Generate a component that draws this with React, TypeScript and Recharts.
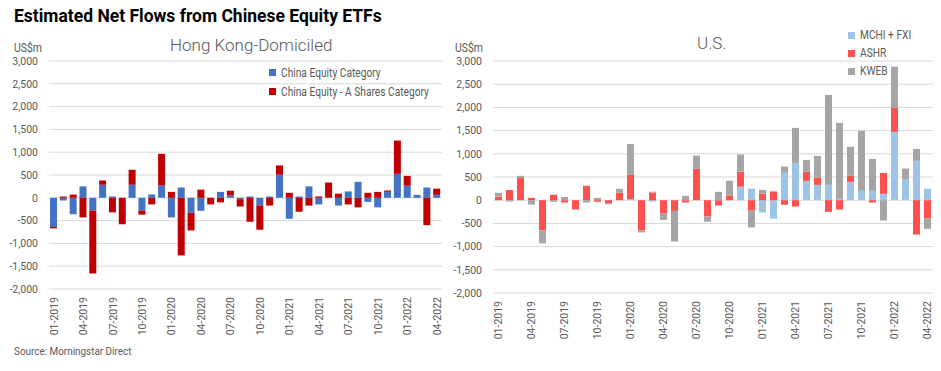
import { BarChart, Bar, XAxis, YAxis, CartesianGrid } from "recharts";

const months = [
  "01-2019", "02-2019", "03-2019", "04-2019", "05-2019", "06-2019", "07-2019", "08-2019", "09-2019", "10-2019", "11-2019", "12-2019",
  "01-2020", "02-2020", "03-2020", "04-2020", "05-2020", "06-2020", "07-2020", "08-2020", "09-2020", "10-2020", "11-2020", "12-2020",
  "01-2021", "02-2021", "03-2021", "04-2021", "05-2021", "06-2021", "07-2021", "08-2021", "09-2021", "10-2021", "11-2021", "12-2021",
  "01-2022", "02-2022", "03-2022", "04-2022",
];

// Hong Kong-domiciled, US$m
const hkChinaEquity = [
  -640, -60, -360, 250, -280, 285, 30, 0, 285, -280, 75, 270,
  -430, 225, -330, -285, 0, 130, 50, -30, 30, -170, 30, 505,
  -460, 30, 250, -145, 0, -170, 140, 350, -90, -210, 130, 525,
  265, 65, 225, 65,
];
const hkAShares = [
  -30, 30, 70, -430, -1380, 95, -320, -580, 330, -90, -145, 695,
  130, -1265, -385, 180, -145, -100, 105, -160, -525, -530, -170, 205,
  110, -305, -170, 30, 335, 90, -145, -210, 110, 130, 30, 730,
  215, 0, -600, 135,
];

// U.S.-listed, US$m
const usMchiFxi = [
  0, 0, 0, 0, 0, 0, 0, 0, 0, 0, 0, 0,
  25, 0, -30, 0, 0, 0, 0, 0, 0, 0, 290, 250,
  -266, -400, 589, 804, 416, 330, 330, 29, 395, 201, 201, 136,
  1472, 445, 847, 244,
];
const usAshr = [
  80, 220, 490, 50, -650, 115, -50, -200, 310, -35, -70, 160,
  520, -650, 165, -290, -230, -50, 675, -352, -115, 100, 325, -225,
  144, 187, -100, -136, 200, 158, -251, -201, 129, 0, -50, 453,
  517, 0, -740, -395,
];
const usKweb = [
  80, -30, 35, -95, -280, -35, 70, 0, -50, 50, -20, 85,
  665, -45, 20, -135, -660, 93, 285, -110, 180, 320, 370, -362,
  79, 13, 136, 754, 252, 467, 1939, 1637, 625, 1292, 689, -438,
  890, 237, 259, -222,
];

const yTicks = [-2000, -1500, -1000, -500, 0, 500, 1000, 1500, 2000, 2500, 3000];

const hkData = months.map((m, i) => ({ month: m, china: hkChinaEquity[i], ashares: hkAShares[i] }));
const usData = months.map((m, i) => ({ month: m, mchi: usMchiFxi[i], ashr: usAshr[i], kweb: usKweb[i] }));

const FONT = "Roboto, 'Noto Sans', sans-serif";
const GREY = "#595959";
const GRID = "#D9D9D9";

const fmt = (v: number) => v.toLocaleString("en-US");

function MonthTick(props: any) {
  const { x, y, payload } = props;
  return (
    <text x={x} y={y} transform={`rotate(-90, ${x}, ${y})`} textAnchor="end" dy="0.35em" fill={GREY} fontSize={10.5} fontFamily={FONT}>
      {payload.value}
    </text>
  );
}

function LegendItem({ color, label, h }: { color: string; label: string; h: number }) {
  return (
    <div style={{ display: "flex", alignItems: "center", height: h }}>
      <span style={{ display: "inline-block", width: 7, height: 7, background: color, marginRight: 5 }} />
      <span style={{ display: "inline-block", transform: "scaleX(0.85)", transformOrigin: "left center" }}>{label}</span>
    </div>
  );
}

const text = (style: React.CSSProperties, content: string, sx = 0.87, origin = "left center") => (
  <div style={{ position: "absolute", whiteSpace: "nowrap", fontFamily: FONT, color: GREY, transform: `scaleX(${sx})`, transformOrigin: origin, ...style }}>
    {content}
  </div>
);

export default function App() {
  return (
    <div style={{ position: "absolute", left: 0, top: 0, width: 941, height: 371, background: "#fff", overflow: "hidden" }}>
      <div style={{ position: "absolute", left: 0, top: 0 }}>
        <BarChart width={450} height={339} data={hkData} stackOffset="sign" margin={{ top: 61, right: 8, left: 0, bottom: 0 }} barSize={7}>
          <CartesianGrid vertical={false} stroke={GRID} />
          <XAxis dataKey="month" interval={2} tick={<MonthTick />} tickLine={false} axisLine={false} height={50} />
          <YAxis domain={[-2000, 3000]} ticks={yTicks} interval={0} width={49} tickLine={false} axisLine={false} tickMargin={5}
            tick={{ fontSize: 10.5, fill: GREY, fontFamily: FONT }} tickFormatter={fmt} />
          <Bar dataKey="china" name="China Equity Category" stackId="a" fill="#4472C4" isAnimationActive={false} />
          <Bar dataKey="ashares" name="China Equity - A Shares Category" stackId="a" fill="#C00000" isAnimationActive={false} />
        </BarChart>
      </div>
      <div style={{ position: "absolute", left: 450, top: 0 }}>
        <BarChart width={491} height={344} data={usData} stackOffset="sign" margin={{ top: 61, right: 8, left: 0, bottom: 0 }} barSize={7}>
          <CartesianGrid vertical={false} stroke={GRID} />
          <XAxis dataKey="month" interval={2} tick={<MonthTick />} tickLine={false} axisLine={false} height={51} />
          <YAxis domain={[-2000, 3000]} ticks={yTicks} interval={0} width={43} tickLine={false} axisLine={false} tickMargin={5}
            tick={{ fontSize: 10.5, fill: GREY, fontFamily: FONT }} tickFormatter={fmt} />
          <Bar dataKey="mchi" name="MCHI + FXI" stackId="a" fill="#9DC3E6" isAnimationActive={false} />
          <Bar dataKey="ashr" name="ASHR" stackId="a" fill="#FF5050" isAnimationActive={false} />
          <Bar dataKey="kweb" name="KWEB" stackId="a" fill="#A5A5A5" isAnimationActive={false} />
        </BarChart>
      </div>

      {text({ left: 14, top: 4, fontSize: 19, fontWeight: "bold", color: "#000" }, "Estimated Net Flows from Chinese Equity ETFs", 0.92)}
      {text({ left: 14, top: 41, fontSize: 12 }, "US$m")}
      {text({ left: 455, top: 41, fontSize: 12 }, "US$m")}
      {text({ left: 170, top: 35, fontSize: 17, fontWeight: 300 }, "Hong Kong-Domiciled", 1.0)}
      {text({ left: 697, top: 33, fontSize: 17, fontWeight: 300 }, "U.S.", 1.0)}
      {text({ left: 14, top: 345, fontSize: 11 }, "Source: Morningstar Direct", 0.9)}

      <div style={{ position: "absolute", left: 269, top: 63, fontFamily: FONT, fontSize: 12, color: GREY, whiteSpace: "nowrap" }}>
        <LegendItem color="#4472C4" label="China Equity Category" h={19} />
        <LegendItem color="#C00000" label="China Equity - A Shares Category" h={19} />
      </div>
      <div style={{ position: "absolute", left: 848, top: 26, fontFamily: FONT, fontSize: 12, color: GREY, whiteSpace: "nowrap" }}>
        <LegendItem color="#9DC3E6" label="MCHI + FXI" h={18} />
        <LegendItem color="#FF5050" label="ASHR" h={18} />
        <LegendItem color="#A5A5A5" label="KWEB" h={18} />
      </div>
    </div>
  );
}
